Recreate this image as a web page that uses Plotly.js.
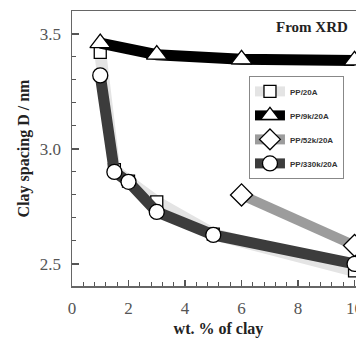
<!DOCTYPE html>
<html>
<head>
<meta charset="utf-8">
<script src="https://cdn.plot.ly/plotly-3.0.1.min.js"></script>
<style>
html,body{margin:0;padding:0;overflow:hidden;background:#fff;}
#chart{width:380px;height:338px;}
</style>
</head>
<body>
<div id="chart"></div>
<script>
// Data
var pp20A_x = [1, 1.5, 2, 3, 5, 10];
var pp20A_y = [3.42, 2.91, 2.86, 2.77, 2.63, 2.47];

var pp9k_x = [1, 3, 6, 10];
var pp9k_y = [3.46, 3.41, 3.39, 3.385];

var pp52k_x = [6, 10];
var pp52k_y = [2.80, 2.58];

var pp330k_x = [1, 1.5, 2, 3, 5, 10];
var pp330k_y = [3.32, 2.90, 2.857, 2.726, 2.626, 2.50];

var seriesNames = ['PP/20A', 'PP/9k/20A', 'PP/52k/20A', 'PP/330k/20A'];
var xTickVals = [0, 2, 4, 6, 8, 10];
var yTickVals = [2.5, 3.0, 3.5];
var yTickText = ['2.5', '3.0', '3.5'];

var mline = {color: '#000', width: 1.3};

var traces = [
  {
    x: pp20A_x, y: pp20A_y, name: seriesNames[0], legendrank: 1, legendgroup: 'a',
    mode: 'lines+markers', type: 'scatter',
    line: {color: '#e4e4e4', width: 12},
    marker: {symbol: 'square', size: 12, color: '#fff', line: mline}
  },
  {
    x: pp52k_x, y: pp52k_y, name: seriesNames[2], legendrank: 3, legendgroup: 'c',
    mode: 'lines+markers', type: 'scatter',
    line: {color: '#9c9c9c', width: 10},
    marker: {symbol: 'diamond', size: 17, color: '#fff', line: mline}
  },
  {
    x: pp330k_x, y: pp330k_y, name: seriesNames[3], legendrank: 4, legendgroup: 'd',
    mode: 'lines+markers', type: 'scatter',
    line: {color: '#3c3c3c', width: 11},
    marker: {symbol: 'circle', size: 15, color: '#fff', line: mline}
  },
  {
    x: pp9k_x, y: pp9k_y, name: seriesNames[1], legendrank: 2, legendgroup: 'b',
    mode: 'lines+markers', type: 'scatter',
    line: {color: '#000', width: 11},
    marker: {symbol: 'triangle-up', size: 18, color: '#fff', line: mline}
  }
];

var serif = 'Liberation Serif, Times New Roman, serif';

var layout = {
  width: 380, height: 338,
  margin: {l: 72, r: 15, t: 11, b: 52},
  paper_bgcolor: '#fff', plot_bgcolor: '#fff',
  showlegend: true,
  legend: {
    x: 0.604, y: 0.764, xanchor: 'left', yanchor: 'top',
    bgcolor: '#fff', bordercolor: '#888', borderwidth: 1,
    font: {family: 'Liberation Sans, Arial, sans-serif', size: 8, color: '#333', weight: 'bold'},
    itemwidth: 30, tracegroupgap: 5, traceorder: 'grouped'
  },
  xaxis: {
    range: [0, 10.37],
    tickvals: xTickVals,
    ticks: 'inside', ticklen: 6, tickwidth: 1.2, tickcolor: '#555',
    minor: {dtick: 0.4, tick0: 0, ticks: 'inside', ticklen: 4, tickcolor: '#555', tickwidth: 1},
    showline: true, linecolor: '#666', linewidth: 1.5, mirror: true,
    showgrid: false, zeroline: false,
    tickfont: {family: serif, size: 17, color: '#555'},
    ticklabelstandoff: 6,
    title: {text: '<b>wt. % of clay</b>', font: {family: serif, size: 16, color: '#222'}, standoff: 6}
  },
  yaxis: {
    range: [2.404, 3.6],
    tickvals: yTickVals, ticktext: yTickText,
    ticks: 'inside', ticklen: 7, tickwidth: 1.2, tickcolor: '#555',
    minor: {dtick: 0.1, tick0: 2.5, ticks: 'inside', ticklen: 4, tickcolor: '#555', tickwidth: 1},
    showline: true, linecolor: '#666', linewidth: 1.5, mirror: true,
    showgrid: false, zeroline: false,
    tickfont: {family: serif, size: 17, color: '#555'},
    ticklabelstandoff: 6,
    title: {text: '<b>Clay spacing D / nm</b>', font: {family: serif, size: 16, color: '#222'}, standoff: 6}
  },
  annotations: [{
    text: '<b>From XRD</b>', xref: 'paper', yref: 'paper',
    x: 0.949, y: 0.942, xanchor: 'right', yanchor: 'middle', showarrow: false,
    font: {family: serif, size: 15, color: '#222'}
  }]
};

Plotly.newPlot('chart', traces, layout, {displayModeBar: false, staticPlot: true});
</script>
</body>
</html>
